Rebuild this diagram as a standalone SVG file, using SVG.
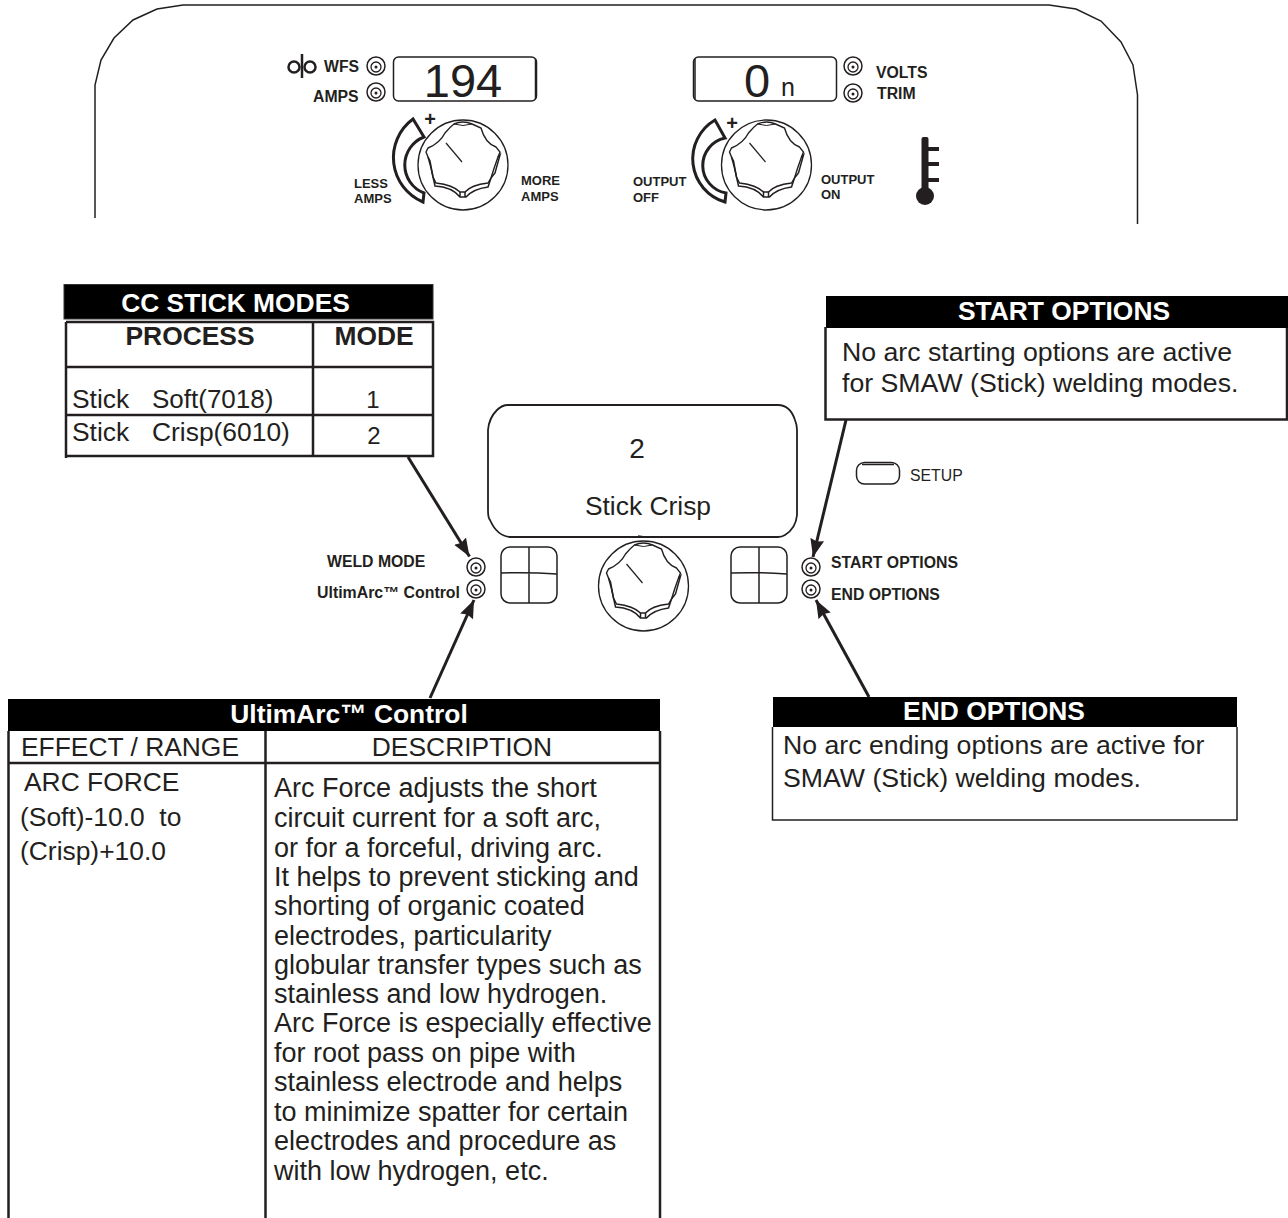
<svg xmlns="http://www.w3.org/2000/svg" width="1288" height="1218" viewBox="0 0 1288 1218">
<style>
text{font-family:"Liberation Sans",Arial,sans-serif;fill:#231f20}
.b{font-weight:bold}
.lg{font-size:26.4px}
.p{font-size:27px}
.o{font-size:26.700px}
.tb{font-size:26.4px;font-weight:bold}
.w{fill:#fff}
.m{text-anchor:middle}
.s13{font-size:13px;font-weight:bold}
.s15{font-size:15.8px;font-weight:bold}
.ln{fill:none;stroke:#231f20;stroke-width:2.5}
.cr{fill:none;stroke:#231f20;stroke-width:3;stroke-linejoin:miter}
.th{fill:none;stroke:#231f20;stroke-width:1.5}
.hd{fill:#000;stroke:#333;stroke-width:1}
.arrow{fill:none;stroke:#231f20;stroke-width:3;marker-end:url(#ah)}
</style>
<defs>
<marker id="ah" markerUnits="userSpaceOnUse" markerWidth="20" markerHeight="16" refX="18" refY="8" orient="auto"><path d="M0 1L18 8L0 15L2 8Z" fill="#231f20"/></marker>
<g id="led"><circle r="9" fill="#fff" stroke="#231f20" stroke-width="1.5"/><circle cy="1" r="5" fill="none" stroke="#231f20" stroke-width="1.3"/><circle cy="1" r="1.5" fill="#231f20"/></g>
<g id="knob">
<circle r="45" fill="#fff" stroke="#231f20" stroke-width="1.3"/>
<path d="M-9 -41Q0 -45 9 -41L18 -37Q22 -22 33 -18L37 -13L35 -8Q31 3 28 13L25 18Q8 20 2 27H-3Q-10 20 -27 18L-30 12Q-32 2 -35 -8L-37 -13L-35 -17Q-23 -22 -18 -32Q-13 -38 -9 -41Z" fill="#fff" stroke="#231f20" stroke-width="1.400"/>
<path d="M-9 -41Q0 -38 9 -41" fill="none" stroke="#231f20" stroke-width="1"/>
<path d="M-30 12L-28 21Q-11 22 -3 32H3Q10 24 25 22L28 13M-3 27V32M2 27V32M35 -8L37 -10L32 8L28 13M-35 -8L-33 -4L-30 12" fill="none" stroke="#231f20" stroke-width="1.500"/>
<path d="M-17 -22L-1 -3" fill="none" stroke="#231f20" stroke-width="1.200"/>
</g>
</defs>
<rect width="1288" height="1218" fill="#fff"/>
<g id="panel-outline"><path d="M95 218V85L101 60L114 38L133 20L157 9L183 5H1049L1076 9L1101 21L1121 42L1133 65L1137.500 95V224" fill="none" stroke="#231f20" stroke-width="1.500"/></g>

<g id="wfs-amps-meter">
<circle cx="294" cy="67" r="5.500" class="ln"/><circle cx="310" cy="67" r="5.500" class="ln"/><path d="M302 54V78" class="ln"/>
<text class="s15" x="324" y="72">WFS</text><text class="s15" x="313" y="102">AMPS</text>
<use href="#led" x="376" y="66"/><use href="#led" x="376" y="92"/>
<rect x="393.500" y="57" width="143" height="44" rx="5" class="th"/><path d="M535.500 59V99" class="th"/>
<text x="463" y="97" font-size="47" class="m">194</text>
</g>
<g id="volts-trim-meter">
<rect x="693.500" y="57" width="143" height="44" rx="5" class="th"/><path d="M695 59V99" class="th"/>
<text x="757" y="97" font-size="47" class="m">0</text><text x="788" y="96" font-size="25" class="m">n</text>
<use href="#led" x="853" y="66"/><use href="#led" x="853" y="93"/>
<text class="s15" x="876" y="78">VOLTS</text><text class="s15" x="877" y="99">TRIM</text>
</g>
<g id="amps-knob">
<path d="M413 119A48 48 0 0 0 423 202L424 193A30 30 0 0 1 424 137Z" class="cr"/>
<text x="430" y="126" font-size="20" class="b m">+</text>
<use href="#knob" x="463" y="165"/>
<text class="s13" x="354" y="188">LESS</text><text class="s13" x="354" y="203">AMPS</text>
<text class="s13" x="521" y="185">MORE</text><text class="s13" x="521" y="201">AMPS</text>
</g>
<g id="output-knob">
<path d="M715 120A45 45 0 0 0 725 202L726 193A28 28 0 0 1 725 138Z" class="cr"/>
<text x="732" y="130" font-size="20" class="b m">+</text>
<use href="#knob" x="766.500" y="165"/>
<text class="s13" x="633" y="186">OUTPUT</text><text class="s13" x="633" y="202">OFF</text>
<text class="s13" x="821" y="184">OUTPUT</text><text class="s13" x="821" y="199">ON</text>
</g>
<g id="thermometer" fill="#231f20"><rect x="921.500" y="137" width="7" height="60" rx="2"/><rect x="925" y="147" width="14" height="4"/><rect x="925" y="162" width="14" height="4"/><rect x="925" y="178" width="14" height="4"/><circle cx="925" cy="196" r="9"/></g>

<g id="cc-stick-modes">
<rect x="64" y="284.500" width="369" height="34.500" class="hd"/>
<text class="tb w m" x="235.500" y="312">CC STICK MODES</text>
<path d="M66 322V458M66 322H433V456H313V322M66 367H433M66 415H433M66 456H313" class="ln"/>
<text class="tb m" x="190" y="345">PROCESS</text><text class="tb m" x="374" y="345">MODE</text>
<text class="lg" x="72" y="408">Stick</text><text x="152" y="408" font-size="26">Soft(7018)</text>
<text class="lg" x="72" y="441">Stick</text><text class="lg" x="152" y="441">Crisp(6010)</text>
<text x="373" y="408" font-size="24" class="m">1</text><text x="374" y="444" font-size="24" class="m">2</text>
</g>

<g id="mode-display">
<path d="M508 405H778Q790 405 795 420Q797 425 797 430V515Q796 528 785 535Q782 537 778 537H510Q497 536 490 520Q488 518 488 510V430Q489 418 497 410Q502 405 508 405Z" fill="none" stroke="#231f20" stroke-width="1.800"/>
<text x="637" y="458" font-size="28" class="m">2</text>
<text x="648" y="515" class="lg m">Stick Crisp</text>
<path d="M638 536L645 537" class="th"/>
</g>
<g id="mode-left-controls">
<text class="s15" x="327" y="567">WELD MODE</text><text class="s15" x="317" y="598" textLength="143" lengthAdjust="spacingAndGlyphs">UltimArc™ Control</text>
<use href="#led" x="476" y="567"/><use href="#led" x="476" y="589"/>
<rect x="501" y="547" width="56" height="56" rx="9" class="th"/><path d="M529 547V603M501 573Q529 572 557 574" class="th"/>
</g>
<g id="center-knob"><use href="#knob" x="643.500" y="586"/></g>
<g id="mode-right-controls">
<rect x="731" y="547" width="56" height="56" rx="9" class="th"/><path d="M759 547V603M731 573Q759 572 787 574" class="th"/>
<use href="#led" x="811" y="567"/><use href="#led" x="811" y="589"/>
<text class="s15" x="831" y="568">START OPTIONS</text><text class="s15" x="831" y="600">END OPTIONS</text>
</g>
<g id="setup-button">
<rect x="856.500" y="462.500" width="43" height="21.500" rx="8" class="th"/><path d="M862 464.500H894" class="th"/>
<text x="910" y="481" font-size="15.800">SETUP</text>
</g>

<g id="start-options">
<rect x="826" y="296" width="462" height="32" fill="#000"/>
<text class="tb w m" x="1064" y="320">START OPTIONS</text>
<path d="M825.500 327V419.500H1287V328" class="ln"/>
<text class="o" x="842" y="361">No arc starting options are active</text>
<text class="o" x="842" y="392">for SMAW (Stick) welding modes.</text>
</g>
<g id="end-options">
<rect x="773" y="697" width="464" height="30" fill="#000"/>
<text class="tb w m" x="994" y="720">END OPTIONS</text>
<path d="M772.500 727V820H1237V727" class="th"/>
<text class="o" x="783" y="754">No arc ending options are active for</text>
<text class="o" x="783" y="787">SMAW (Stick) welding modes.</text>
</g>
<g id="ultimarc-control">
<rect x="8" y="699" width="652" height="32" fill="#000"/>
<text class="tb w m" x="349" y="723">UltimArc™ Control</text>
<path d="M8.500 731V1218M265.500 731V1218M660 731V1218M8 763H660" class="ln"/>
<text class="lg" x="21" y="756">EFFECT / RANGE</text>
<text class="lg m" x="462" y="756">DESCRIPTION</text>
<text class="lg" x="24" y="791">ARC FORCE</text>
<text class="lg" x="20" y="826" style="white-space:pre">(Soft)-10.0  to</text>
<text class="lg" x="20" y="860">(Crisp)+10.0</text>
<text class="p" x="274" y="797">Arc Force adjusts the short</text>
<text class="p" x="274" y="827">circuit current for a soft arc,</text>
<text class="p" x="274" y="857">or for a forceful, driving arc.</text>
<text class="p" x="274" y="886">It helps to prevent sticking and</text>
<text class="p" x="274" y="915">shorting of organic coated</text>
<text class="p" x="274" y="945">electrodes, particularity</text>
<text class="p" x="274" y="974">globular transfer types such as</text>
<text class="p" x="274" y="1003">stainless and low hydrogen.</text>
<text class="p" x="274" y="1032">Arc Force is especially effective</text>
<text class="p" x="274" y="1062">for root pass on pipe with</text>
<text class="p" x="274" y="1091">stainless electrode and helps</text>
<text class="p" x="274" y="1121">to minimize spatter for certain</text>
<text class="p" x="274" y="1150">electrodes and procedure as</text>
<text class="p" x="274" y="1180">with low hydrogen, etc.</text>
</g>

<g id="connectors">
<path d="M408 457L469.500 556.500" class="arrow"/>
<path d="M430 698L474 600" class="arrow"/>
<path d="M846 420L813 557" class="arrow"/>
<path d="M869 697L816 600" class="arrow"/>
</g>
</svg>
